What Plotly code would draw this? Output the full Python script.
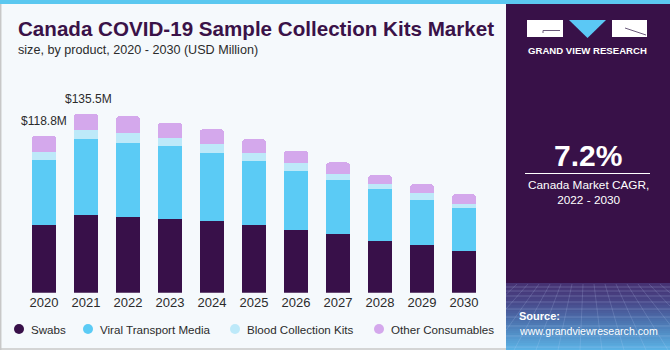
import plotly.graph_objects as go

years = ["2020", "2021", "2022", "2023", "2024", "2025", "2026", "2027", "2028", "2029", "2030"]
swabs = [51.0, 58.8, 57.5, 55.5, 54.0, 50.9, 47.5, 44.1, 38.8, 35.8, 31.6]
viral_transport_media = [49.7, 57.5, 55.8, 55.6, 52.0, 48.8, 44.9, 41.2, 39.9, 34.4, 32.8]
blood_collection_kits = [6.0, 6.8, 7.6, 6.1, 6.6, 6.1, 6.1, 4.2, 3.6, 5.3, 3.0]
other_consumables = [12.1, 12.4, 12.6, 11.6, 11.1, 10.3, 9.1, 9.1, 6.5, 6.5, 7.0]
series_names = ["Swabs", "Viral Transport Media", "Blood Collection Kits", "Other Consumables"]
series_values = [swabs, viral_transport_media, blood_collection_kits, other_consumables]
series_colors = ["#381049", "#5BCBF5", "#BDE9F9", "#D4A8EC"]
labelled_years = ["2020", "2021"]
labels = ["$118.8M", "$135.5M"]

W, H = 670, 350
def X(px):
    return px / W
def Y(py):
    return 1 - py / H

REG = "Liberation Sans, Arial"

fig = go.Figure()
for name, vals, col in zip(series_names, series_values, series_colors):
    fig.add_trace(go.Bar(x=years, y=vals, name=name, marker=dict(color=col, line=dict(width=0)),
                         showlegend=False, hoverinfo="x+y+name"))

totals = [sum(v) for v in zip(*series_values)]
for yr, lab in zip(labelled_years, labels):
    i = years.index(yr)
    fig.add_annotation(x=i, y=totals[i], xref="x", yref="y", text=lab, showarrow=False, yshift=15,
                       xshift=(0 if i == 0 else 2),
                       font=dict(size=12, color="#2b2b2b", family=REG))

shapes = []
# top strip
shapes.append(dict(type="rect", xref="paper", yref="paper", x0=0, x1=1, y0=Y(4), y1=1,
                   fillcolor="#5BC8F0", line=dict(width=0), layer="below"))
# right panel
shapes.append(dict(type="rect", xref="paper", yref="paper", x0=X(506), x1=1, y0=0, y1=Y(4),
                   fillcolor="#381148", line=dict(width=0), layer="below"))
# gradient bottom of right panel
stops = [(283, (70, 50, 115)), (300, (72, 70, 135)), (320, (76, 115, 175)), (350, (92, 182, 232))]
for py in range(283, 350, 2):
    for (a, ca), (b, cb) in zip(stops[:-1], stops[1:]):
        if a <= py <= b:
            t = (py - a) / (b - a)
            c = tuple(int(ca[k] + (cb[k] - ca[k]) * t) for k in range(3))
            break
    shapes.append(dict(type="rect", xref="paper", yref="paper", x0=X(506), x1=1, y0=Y(py + 2), y1=Y(py),
                       fillcolor="rgb(%d,%d,%d)" % c, line=dict(width=0), layer="below"))
# mesh lines
for py in [287, 291, 296, 302, 309, 317, 326, 336, 347]:
    shapes.append(dict(type="line", xref="paper", yref="paper", x0=X(506), x1=1, y0=Y(py), y1=Y(py),
                       line=dict(color="rgba(200,220,255,0.28)", width=0.8), layer="below"))
for k in range(0, 16):
    xt = 506 + k * 11
    xb = 506 + k * 22 - 80
    x0, y0 = xt, 284
    if xb < 506:
        tt = (506 - xt) / (xb - xt) if xb != xt else 0
        xb2, yb2 = 506, 284 + (350 - 284) * tt
    else:
        xb2, yb2 = xb, 350
    shapes.append(dict(type="line", xref="paper", yref="paper", x0=X(x0), x1=X(xb2), y0=Y(y0), y1=Y(yb2),
                       line=dict(color="rgba(200,220,255,0.22)", width=0.8), layer="below"))
# left panel border
shapes.append(dict(type="line", xref="paper", yref="paper", x0=X(0.7), x1=X(0.7), y0=Y(350), y1=Y(4),
                   line=dict(color="#C8C8C8", width=1.5), layer="below"))
shapes.append(dict(type="line", xref="paper", yref="paper", x0=0, x1=X(506), y0=Y(349), y1=Y(349),
                   line=dict(color="#C8C8C8", width=1.5), layer="below"))
# logo
shapes.append(dict(type="rect", xref="paper", yref="paper", x0=X(527), x1=X(563), y0=Y(37), y1=Y(20),
                   fillcolor="white", line=dict(width=0)))
shapes.append(dict(type="line", xref="paper", yref="paper", x0=X(543), x1=X(560), y0=Y(30.5), y1=Y(30.5),
                   line=dict(color="#6a5a7a", width=1)))
shapes.append(dict(type="line", xref="paper", yref="paper", x0=X(543), x1=X(543), y0=Y(30.5), y1=Y(33),
                   line=dict(color="#6a5a7a", width=1)))
shapes.append(dict(type="path", xref="paper", yref="paper",
                   path="M %f,%f L %f,%f L %f,%f Z" % (X(569), Y(20), X(606), Y(20), X(587.5), Y(38)),
                   fillcolor="#5BC8F5", line=dict(width=0)))
shapes.append(dict(type="rect", xref="paper", yref="paper", x0=X(612), x1=X(647), y0=Y(37), y1=Y(20),
                   fillcolor="white", line=dict(width=0)))
shapes.append(dict(type="line", xref="paper", yref="paper", x0=X(625), x1=X(646), y0=Y(28), y1=Y(35),
                   line=dict(color="#6a5a7a", width=1)))
# CAGR separator
shapes.append(dict(type="line", xref="paper", yref="paper", x0=X(525), x1=X(650), y0=Y(173.5), y1=Y(173.5),
                   line=dict(color="white", width=1)))

# legend (manual, circles)
legend_marker_x = [19, 88, 235, 379]
for name, col, mx in zip(series_names, series_colors, legend_marker_x):
    shapes.append(dict(type="circle", xref="paper", yref="paper", x0=X(mx - 5), x1=X(mx + 5),
                       y0=Y(334), y1=Y(324), fillcolor=col, line=dict(width=0)))
    fig.add_annotation(xref="paper", yref="paper", x=X(mx + 10), y=Y(329), text=name, showarrow=False,
                       xanchor="left", yanchor="middle", font=dict(size=11.6, color="#2b2b2b", family=REG))

# texts
fig.add_annotation(xref="paper", yref="paper", x=X(16), y=Y(29), text="<b>Canada COVID-19 Sample Collection Kits Market</b>",
                   showarrow=False, xanchor="left", yanchor="middle",
                   font=dict(size=20.6, color="#3A1248", family=REG))
fig.add_annotation(xref="paper", yref="paper", x=X(16), y=Y(50), text="size, by product, 2020 - 2030 (USD Million)",
                   showarrow=False, xanchor="left", yanchor="middle",
                   font=dict(size=12.6, color="#2b2b2b", family=REG))
fig.add_annotation(xref="paper", yref="paper", x=X(587), y=Y(50.5), text="<b>GRAND VIEW RESEARCH</b>",
                   showarrow=False, xanchor="center", yanchor="middle",
                   font=dict(size=9.6, color="white", family=REG))
fig.add_annotation(xref="paper", yref="paper", x=X(587.5), y=Y(155), text="<b>7.2%</b>",
                   showarrow=False, xanchor="center", yanchor="middle",
                   font=dict(size=30, color="white", family=REG))
fig.add_annotation(xref="paper", yref="paper", x=X(588), y=Y(193), text="Canada Market CAGR,<br>2022 - 2030",
                   showarrow=False, xanchor="center", yanchor="middle",
                   font=dict(size=11.8, color="white", family=REG))
fig.add_annotation(xref="paper", yref="paper", x=X(517), y=Y(316), text="<b>Source:</b>",
                   showarrow=False, xanchor="left", yanchor="middle",
                   font=dict(size=11, color="white", family=REG))
fig.add_annotation(xref="paper", yref="paper", x=X(517), y=Y(330.5), text="www.grandviewresearch.com",
                   showarrow=False, xanchor="left", yanchor="middle",
                   font=dict(size=10.6, color="white", family=REG))

y_bottom_px = 292.7
y_top_px = 60
px_per_unit = 1.321
fig.update_layout(
    width=W, height=H, margin=dict(l=0, r=0, t=0, b=0),
    paper_bgcolor="#F5F9FC", plot_bgcolor="rgba(0,0,0,0)",
    barmode="stack", bargap=0.43, barcornerradius=3,
    shapes=shapes, showlegend=False,
    xaxis=dict(domain=[X(23), X(485)], type="category", range=[-0.5, len(years) - 0.5], autorange=False,
               showgrid=False, showline=False, zeroline=False,
               ticks="", tickfont=dict(size=13, color="#2b2b2b", family=REG)),
    yaxis=dict(domain=[Y(y_bottom_px), Y(y_top_px)], range=[0, (y_bottom_px - y_top_px) / px_per_unit],
               autorange=False, visible=False, showgrid=False, zeroline=False),
)
fig.write_html("out.html")
